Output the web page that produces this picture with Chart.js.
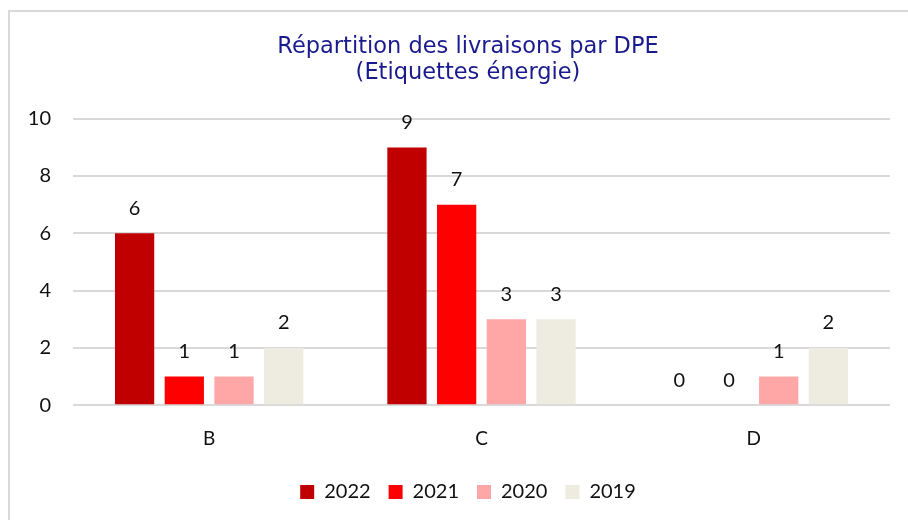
<!DOCTYPE html>
<html>
<head>
<meta charset="utf-8">
<script src="https://cdn.jsdelivr.net/npm/chart.js@4"></script>
<style>
  html, body { margin:0; padding:0; background:#fff; }
  #wrap { position:relative; width:908px; height:520px; overflow:hidden; }
  #frame { position:absolute; left:8px; top:10px; width:1000px; height:600px;
           border-top:2px solid #d9d9d9; border-left:2px solid #d9d9d9; }
  #chart { position:absolute; left:0; top:0; }
</style>
</head>
<body>
<div id="wrap">
  <div id="frame"></div>
  <canvas id="chart" width="908" height="520"></canvas>
</div>
<script>
// data
const categories = ["B", "C", "D"];
const years = ["2022", "2021", "2020", "2019"];
const v2022 = [6, 9, 0];
const v2021 = [1, 7, 0];
const v2020 = [1, 3, 1];
const v2019 = [2, 3, 2];
const yTicks = [0, 2, 4, 6, 8, 10];

const colors = ["#C00000", "#FF0000", "#FFA7A7", "#EEEBE1"];
const series = [v2022, v2021, v2020, v2019];

const FONT = "Lato, 'Open Sans', sans-serif";

// draw value above each bar
const barLabels = {
  id: "barLabels",
  afterDatasetsDraw(chart) {
    const ctx = chart.ctx;
    ctx.save();
    ctx.font = "20px " + FONT;
    ctx.fillStyle = "#111";
    ctx.textAlign = "center";
    ctx.textBaseline = "middle";
    chart.data.datasets.forEach((ds, i) => {
      chart.getDatasetMeta(i).data.forEach((bar, j) => {
        ctx.fillText(String(ds.data[j]), bar.x, bar.y - 25);
      });
    });
    ctx.restore();
  }
};

// the original chart is wider than the crop, so title + legend sit right of centre
const shiftBoxes = {
  id: "shiftBoxes",
  afterLayout(chart) {
    [chart.titleBlock, chart.legend].forEach(b => {
      if (b) { b.left += 13; b.right += 13; }
    });
  }
};

new Chart(document.getElementById("chart"), {
  type: "bar",
  data: {
    labels: categories,
    datasets: series.map((d, i) => ({
      label: years[i],
      data: d,
      backgroundColor: colors[i],
      categoryPercentage: 0.73,
      barPercentage: 0.79
    }))
  },
  options: {
    responsive: false,
    animation: false,
    layout: { padding: { left: 20, right: 18, top: 16, bottom: 8 } },
    plugins: {
      title: {
        display: true,
        text: ["Répartition des livraisons par DPE", "(Etiquettes énergie)"],
        color: "#1A1A8F",
        font: { family: "'DejaVu Sans', Verdana, sans-serif", size: 22.5, weight: "normal", lineHeight: 1.15 },
        padding: { top: 18, bottom: 33 }
      },
      legend: {
        position: "bottom",
        labels: {
          color: "#111",
          font: { family: FONT, size: 20 },
          boxWidth: 14,
          boxHeight: 14,
          padding: 18
        }
      },
      tooltip: { enabled: false }
    },
    scales: {
      x: {
        grid: { display: false },
        border: { display: false },
        ticks: { color: "#111", font: { family: FONT, size: 19 }, padding: 14 }
      },
      y: {
        min: 0,
        max: 10,
        afterBuildTicks: axis => { axis.ticks = yTicks.map(v => ({ value: v })); },
        afterFit: axis => { axis.width = 53; },
        grid: { color: "#d9d9d9", lineWidth: 2, drawTicks: false },
        border: { display: false },
        ticks: { color: "#111", font: { family: FONT, size: 20 }, padding: 22 }
      }
    }
  },
  plugins: [barLabels, shiftBoxes]
});
</script>
</body>
</html>
